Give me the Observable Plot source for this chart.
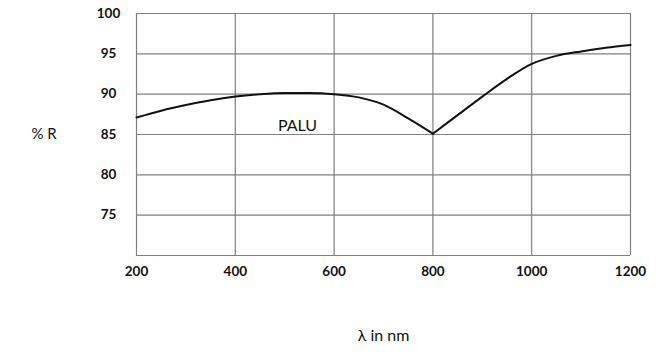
<!DOCTYPE html>
<html>
<head>
<meta charset="utf-8">
<script src="https://cdn.jsdelivr.net/npm/d3@7"></script>
<script src="https://cdn.jsdelivr.net/npm/@observablehq/plot@0.6"></script>
<style>
  html, body { margin: 0; padding: 0; background: #fff; }
  #chart { width: 664px; height: 352px; }
</style>
</head>
<body>
<div id="chart"></div>
<script>
const wavelength = [200, 250, 300, 350, 400, 450, 500, 550, 600, 650, 700, 750, 800, 850, 900, 950, 1000, 1050, 1100, 1150, 1200];
const reflectance = [87.1, 87.95, 88.65, 89.25, 89.7, 90.0, 90.15, 90.15, 90.0, 89.6, 88.7, 87.0, 85.1, 87.4, 89.7, 91.9, 93.75, 94.75, 95.3, 95.75, 96.1];
const xTicks = [200, 400, 600, 800, 1000, 1200];
const yTicks = [75, 80, 85, 90, 95, 100];
const yGrid = [70, 75, 80, 85, 90, 95, 100];
const seriesLabel = ["PALU"];
const seriesLabelX = [526];
const seriesLabelY = [86.1];
const xTitle = "λ in nm";
const yTitle = "% R";

// Split at the reflectance minimum so the dip keeps its sharp tip
const iMin = reflectance.indexOf(Math.min(...reflectance));
const data = [];
wavelength.forEach((w, i) => {
  if (i <= iMin) data.push({w, r: reflectance[i], seg: 0});
  if (i >= iMin) data.push({w, r: reflectance[i], seg: 1});
});
const gridColor = "#7f7f7f";
const font = "Lato, 'Open Sans', sans-serif";

const chart = Plot.plot({
  width: 664,
  height: 352,
  marginLeft: 136,
  marginRight: 34,
  marginTop: 13,
  marginBottom: 97,
  style: {fontFamily: font, background: "#fff"},
  x: {domain: [200, 1200]},
  y: {domain: [70, 100]},
  marks: [
    Plot.ruleY(yGrid, {stroke: gridColor, strokeWidth: 1.2}),
    Plot.ruleX(xTicks, {stroke: gridColor, strokeWidth: 1.2}),
    Plot.axisX({ticks: xTicks, tickFormat: d3.format("d"), tickSize: 0, tickPadding: 11, label: null, fontSize: 13.5, fontWeight: "bold", fill: "#111"}),
    Plot.axisY({ticks: yTicks, tickFormat: d3.format("d"), tickSize: 0, tickPadding: 28, textAnchor: "middle", label: null, fontSize: 13.5, fontWeight: "bold", fill: "#111"}),
    Plot.line(data, {x: "w", y: "r", z: "seg", curve: "monotone-x", stroke: "#111", strokeWidth: 2, strokeLinejoin: "round"}),
    Plot.text(seriesLabel, {x: seriesLabelX, y: seriesLabelY, text: d => d, fontSize: 16, fill: "#111", fontFamily: font}),
    Plot.text([yTitle], {frameAnchor: "left", dx: -105, text: d => d, fontSize: 15, fill: "#111"}),
    Plot.text([xTitle], {frameAnchor: "bottom", dy: 85, text: d => d, fontSize: 16, fill: "#111"})
  ]
});
document.getElementById("chart").appendChild(chart);
</script>
</body>
</html>
